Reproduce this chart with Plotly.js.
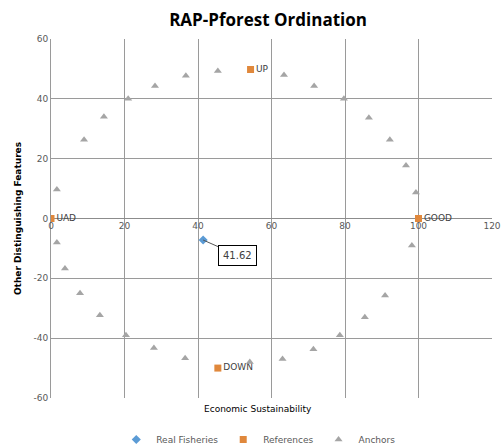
<!DOCTYPE html>
<html>
<head>
<meta charset="utf-8">
<script src="https://cdn.plot.ly/plotly-3.0.1.min.js"></script>
<style>html,body{margin:0;padding:0;background:#fff;}#chart{width:501px;height:448px;}</style>
</head>
<body>
<div id="chart"></div>
<script>
// Real fisheries
var realX = [41.4];
var realY = [-7.2];
var realLabels = ["41.62"];

// References
var refX = [0, 100, 54.3, 45.4];
var refY = [0, 0, 49.8, -50];
var refLabels = ["UAD", "GOOD", "UP", "DOWN"];

// Anchors
var anchorX = [14.4, 21, 28.3, 36.7, 45.4, 63.4, 71.6, 79.7, 86.5, 92.2, 96.6, 99.3, 98.2, 90.9, 85.4, 78.6, 71.4, 63, 54.1, 36.5, 28, 20.4, 13.3, 7.9, 3.8, 1.6, 1.6, 9];
var anchorY = [34, 40, 44.3, 47.7, 49.3, 48, 44.3, 40, 33.7, 26.3, 17.7, 8.7, -9, -25.7, -33, -39, -43.7, -47, -48, -46.7, -43.3, -39, -32.3, -25, -16.7, -8, 9.7, 26.3];

var xTicks = [0, 20, 40, 60, 80, 100, 120];
var yTicks = [-60, -40, -20, 0, 20, 40, 60];

var traces = [
  {x: realX, y: realY, type: 'scatter', mode: 'markers', name: 'Real Fisheries',
   marker: {symbol: 'diamond', size: 7, color: '#5b9bd5'}},
  {x: refX, y: refY, type: 'scatter', mode: 'markers+text', name: 'References',
   text: refLabels, textposition: 'middle right',
   textfont: {family: 'DejaVu Sans', size: 9, color: '#404040'},
   marker: {symbol: 'square', size: 7, color: '#e0883c'}},
  {x: anchorX, y: anchorY, type: 'scatter', mode: 'markers', name: 'Anchors',
   marker: {symbol: 'triangle-up', size: 7, color: '#a5a5a5'}}
];

var layout = {
  width: 501, height: 448,
  margin: {l: 51, r: 9, t: 39, b: 50, autoexpand: false},
  paper_bgcolor: '#fff', plot_bgcolor: '#fff',
  font: {family: 'DejaVu Sans', size: 9, color: '#595959'},
  title: {text: '<b>RAP-Pforest Ordination</b>', x: 0.535, xanchor: 'center', y: 0.955, yanchor: 'middle',
          font: {family: 'Open Sans', size: 17, color: '#000'}},
  showlegend: true,
  legend: {orientation: 'h', x: 0.47, xanchor: 'center', y: -0.075, yanchor: 'top',
           font: {family: 'DejaVu Sans', size: 9, color: '#595959'}, itemwidth: 30},
  xaxis: {range: [0, 120], tickvals: xTicks, ticktext: xTicks.map(String),
          showgrid: true, gridcolor: '#9a9a9a', gridwidth: 1, zeroline: false,
          anchor: 'free', position: 0.5, ticks: '', showline: false,
          tickfont: {family: 'DejaVu Sans', size: 9, color: '#595959'},
          title: {text: ''}},
  yaxis: {range: [-60, 60], tickvals: yTicks, ticktext: yTicks.map(String),
          showgrid: true, gridcolor: '#9a9a9a', gridwidth: 1,
          zeroline: true, zerolinecolor: '#8c8c8c', zerolinewidth: 1,
          showline: true, linecolor: '#9a9a9a', ticks: '',
          tickfont: {family: 'DejaVu Sans', size: 9, color: '#595959'},
          title: {text: '<b>Other Distinguishing Features</b>', standoff: 10,
                  font: {family: 'DejaVu Sans', size: 9, color: '#000'}}},
  annotations: [
    {xref: 'paper', yref: 'paper', x: 0.47, y: -0.012, yanchor: 'top', showarrow: false,
     text: 'Economic Sustainability', font: {family: 'DejaVu Sans', size: 9, color: '#000'}},
    {x: realX[0], y: realY[0], text: realLabels[0], showarrow: true, arrowhead: 0,
     arrowcolor: '#555', arrowwidth: 1, ax: 34, ay: 15, xanchor: 'center',
     bordercolor: '#000', borderwidth: 1, borderpad: 4, bgcolor: '#fff',
     font: {family: 'DejaVu Sans', size: 10, color: '#404040'}}
  ]
};

Plotly.newPlot('chart', traces, layout, {displayModeBar: false, staticPlot: true});
</script>
</body>
</html>
